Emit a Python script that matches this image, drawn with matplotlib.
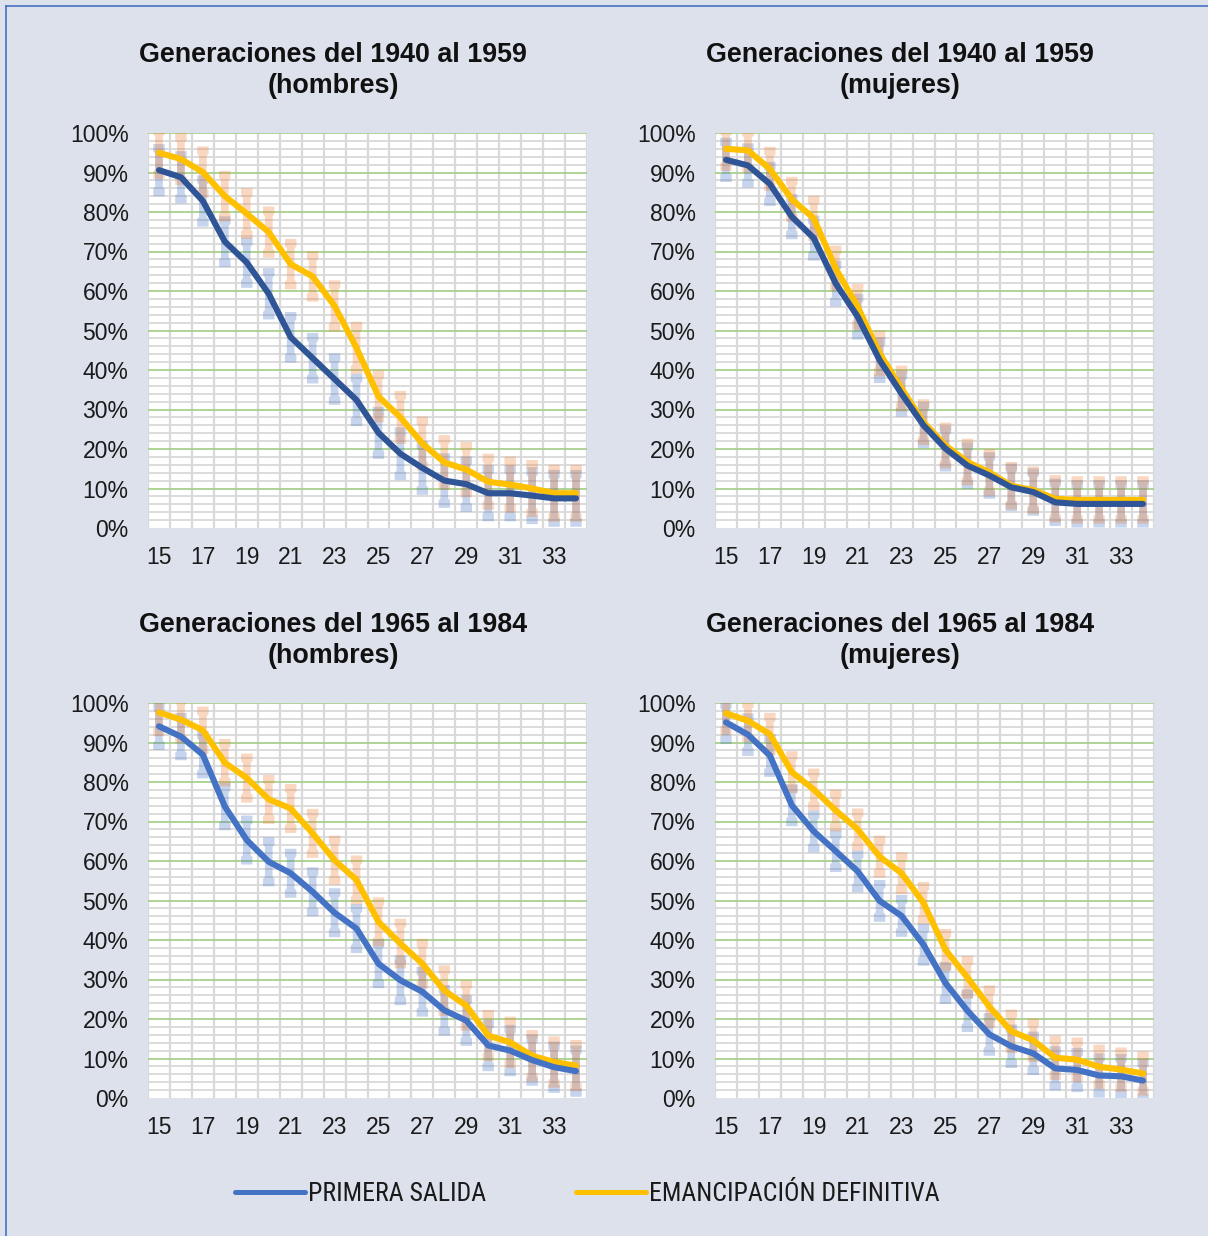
import matplotlib
matplotlib.use("Agg")
import matplotlib.pyplot as plt
from matplotlib.path import Path
from matplotlib.patches import PathPatch
from matplotlib.lines import Line2D

# ---------------- data ----------------
ages = list(range(15, 35))
tick_ages = ages[::2]

titles = ["Generaciones del 1940 al 1959", "Generaciones del 1940 al 1959",
          "Generaciones del 1965 al 1984", "Generaciones del 1965 al 1984"]
subtitles = ["(hombres)", "(mujeres)", "(hombres)", "(mujeres)"]

# PRIMERA SALIDA (%)
primera_h_1940 = [90.6, 88.8, 82.8, 72.5, 67.2, 59.3, 48.3, 43.0, 37.7, 32.4,
                  24.1, 18.8, 15.2, 12.0, 11.1, 8.8, 8.8, 8.2, 7.5, 7.5]
primera_m_1940 = [93.2, 91.8, 87.1, 78.8, 73.4, 61.9, 53.5, 42.5, 34.0, 26.0,
                  20.1, 15.8, 13.3, 10.3, 9.1, 6.5, 6.1, 6.1, 6.1, 6.1]
primera_h_1965 = [94.1, 91.5, 86.9, 73.8, 65.3, 59.8, 56.9, 52.2, 46.9, 42.9,
                  34.0, 29.8, 26.9, 22.2, 19.6, 13.3, 12.0, 9.6, 7.8, 6.8]
primera_m_1965 = [95.1, 92.0, 86.7, 74.1, 67.5, 62.5, 57.4, 49.9, 46.1, 38.8,
                  29.1, 22.1, 16.1, 13.1, 11.3, 7.5, 7.1, 5.7, 5.5, 4.4]

# EMANCIPACIÓN DEFINITIVA (%)
eman_h_1940 = [95.0, 93.4, 90.1, 84.0, 79.6, 74.9, 66.8, 63.7, 56.2, 45.6,
               33.3, 28.0, 21.4, 16.6, 14.8, 11.7, 11.0, 10.0, 8.8, 8.8]
eman_m_1940 = [96.0, 95.6, 90.9, 83.2, 78.4, 65.7, 56.0, 44.2, 35.3, 26.8,
               20.9, 16.7, 14.1, 10.7, 9.6, 7.4, 7.1, 7.1, 7.1, 7.1]
eman_h_1965 = [97.6, 95.8, 93.1, 84.9, 81.0, 75.6, 73.3, 67.0, 60.2, 55.2,
               44.6, 39.1, 34.0, 27.2, 23.4, 15.8, 14.1, 10.7, 9.1, 8.2]
eman_m_1965 = [97.4, 95.5, 92.1, 82.5, 78.1, 72.8, 68.0, 61.1, 56.9, 49.4,
               37.5, 30.5, 23.1, 16.9, 14.6, 10.2, 9.7, 7.9, 7.2, 6.2]

# half-width of confidence intervals (percentage points)
err_h_1940 = [6.6, 6.6, 6.5, 6.4, 6.4, 6.5, 6.4, 6.4, 6.5, 6.6,
              6.6, 6.7, 6.8, 6.9, 7.0, 7.1, 7.1, 7.2, 7.2, 7.2]
err_m_1940 = [5.6, 5.6, 5.6, 5.7, 5.7, 5.8, 5.8, 5.8, 5.8, 5.8,
              5.8, 5.9, 5.9, 6.0, 6.0, 6.0, 6.0, 6.0, 6.0, 6.0]
err_h_1965 = [6.0, 6.0, 6.0, 6.0, 6.2, 6.2, 6.2, 6.2, 6.2, 6.2,
              6.2, 6.3, 6.3, 6.4, 6.4, 6.5, 6.5, 6.5, 6.5, 6.5]
err_m_1965 = [5.5, 5.4, 5.4, 5.3, 5.3, 5.3, 5.3, 5.3, 5.3, 5.3,
              5.3, 5.4, 5.4, 5.5, 5.5, 5.6, 5.6, 5.6, 5.6, 5.6]

panels = [
    (primera_h_1940, eman_h_1940, err_h_1940, "#2f5597"),
    (primera_m_1940, eman_m_1940, err_m_1940, "#2f5597"),
    (primera_h_1965, eman_h_1965, err_h_1965, "#4472c4"),
    (primera_m_1965, eman_m_1965, err_m_1965, "#4472c4"),
]
legend_labels = ["PRIMERA SALIDA", "EMANCIPACIÓN DEFINITIVA"]

# ---------------- style ----------------
BG = "#dde1eb"
YELLOW = "#ffc000"
CI_BLUE = "#4472c4"
CI_ORANGE = "#ed7d31"
GRID_GRAY = "#d9d9d9"
GRID_GREEN = "#a9d18e"
FONT = ["Liberation Sans", "DejaVu Sans"]
NARROW = ["Liberation Sans Narrow", "Roboto Condensed", "Liberation Sans", "DejaVu Sans"]

CW, SW, CH, TP = 0.26, 0.175, 1.9, 0.5   # cap half width, stem half width, cap height, taper


def ci_path(xs, ys, es):
    verts, codes = [], []
    for x, y, e in zip(xs, ys, es):
        lo, hi = y - e, y + e
        poly = [(x - CW, lo), (x + CW, lo), (x + CW, lo + CH), (x + SW, lo + CH + TP),
                (x + SW, hi - CH - TP), (x + CW, hi - CH), (x + CW, hi), (x - CW, hi),
                (x - CW, hi - CH), (x - SW, hi - CH - TP), (x - SW, lo + CH + TP),
                (x - CW, lo + CH), (x - CW, lo)]
        verts += poly
        codes += [Path.MOVETO] + [Path.LINETO] * 11 + [Path.CLOSEPOLY]
    return Path(verts, codes)


W, H = 1208, 1236
fig = plt.figure(figsize=(W / 100, H / 100), dpi=100, facecolor=BG)

# outer frame (left and top edges visible)
fig.add_artist(Line2D([6 / W, 6 / W], [0, 1 - 6 / H], transform=fig.transFigure,
                      color="#4472c4", lw=1.2))
fig.add_artist(Line2D([6 / W, 1], [1 - 6 / H, 1 - 6 / H], transform=fig.transFigure,
                      color="#4472c4", lw=1.2))

lefts = [148, 715]
tops = [133, 703]
pw, ph = 439, 395
title_x = [333, 900]
title_y = [55, 625]

for k, (prim, eman, err, bcol) in enumerate(panels):
    r, c = divmod(k, 2)
    ax = fig.add_axes([lefts[c] / W, 1 - (tops[r] + ph) / H, pw / W, ph / H])
    ax.set_facecolor("white")
    x = list(range(len(ages)))
    ax.set_xlim(-0.5, len(ages) - 0.5)
    ax.set_ylim(0, 100)

    # grid
    ax.set_yticks(range(0, 101, 10))
    ax.set_yticks([v for v in range(2, 100, 2) if v % 10], minor=True)
    ax.set_xticks([a - ages[0] for a in tick_ages])
    ax.set_xticks([i - 0.5 for i in range(len(ages) + 1)], minor=True)
    ax.grid(True, which="major", axis="y", color=GRID_GREEN, lw=1.3)
    ax.grid(True, which="minor", axis="y", color=GRID_GRAY, lw=1.3)
    ax.grid(True, which="minor", axis="x", color=GRID_GRAY, lw=1.6)
    ax.get_ygridlines()[0].set_visible(False)
    ax.set_axisbelow(True)
    for s in ax.spines.values():
        s.set_visible(False)
    ax.tick_params(which="both", length=0)
    ax.tick_params(axis="y", pad=14, labelsize=16.5, labelcolor="#1a1a1a")
    ax.tick_params(axis="x", pad=13, labelsize=16.5, labelcolor="#1a1a1a")
    ax.set_yticklabels([f"{v}%" for v in range(0, 101, 10)], fontfamily=FONT)
    ax.set_xticklabels([str(a) for a in tick_ages], fontfamily=FONT)

    # confidence intervals
    ax.add_patch(PathPatch(ci_path(x, prim, err), facecolor=CI_BLUE, edgecolor="none",
                           alpha=0.3, zorder=2))
    ax.add_patch(PathPatch(ci_path(x, eman, err), facecolor=CI_ORANGE, edgecolor="none",
                           alpha=0.3, zorder=2))

    # lines
    ax.plot(x, prim, color=bcol, lw=4.4, solid_joinstyle="round",
            solid_capstyle="round", zorder=4)
    ax.plot(x, eman, color=YELLOW, lw=4.4, solid_joinstyle="round",
            solid_capstyle="round", zorder=3)

    fig.text(title_x[c] / W, 1 - title_y[r] / H, titles[k], ha="center", va="center",
             fontsize=19.4, fontweight="bold", fontfamily=FONT, color="#111111")
    fig.text(title_x[c] / W, 1 - (title_y[r] + 31) / H, subtitles[k], ha="center",
             va="center", fontsize=19.4, fontweight="bold", fontfamily=FONT, color="#111111")

handles = [Line2D([], [], color="#4472c4", lw=3.6, solid_capstyle="round"),
           Line2D([], [], color=YELLOW, lw=3.6, solid_capstyle="round")]
leg = fig.legend(handles, legend_labels, ncol=2, loc="center",
                 bbox_to_anchor=(587 / W, 1 - 1194 / H), frameon=False,
                 handlelength=2.72, handletextpad=0.12, columnspacing=3.5,
                 prop={"family": NARROW, "size": 18.5})
for t in leg.get_texts():
    t.set_color("#1a1a1a")

fig.savefig("out.png", dpi=100, facecolor=BG)
